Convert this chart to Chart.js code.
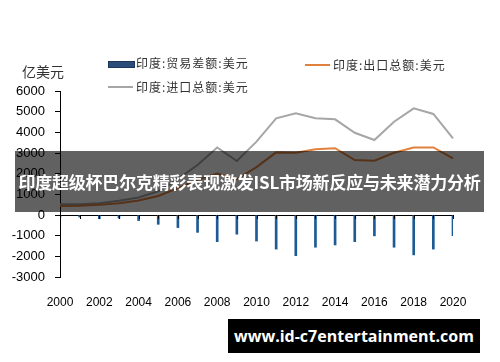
<!DOCTYPE html>
<html>
<head>
<meta charset="utf-8">
<script src="https://cdn.jsdelivr.net/npm/chart.js@4/dist/chart.umd.min.js"></script>
<style>
  html, body { margin: 0; padding: 0; background: #fff; }
  #wrap { position: relative; width: 500px; height: 362px; overflow: hidden; }
  #c { position: absolute; left: 0; top: 0; }
  .unit { position: absolute; left: 22px; top: 61px; font: 14px "Noto Sans CJK SC"; color: #333; }
  .leg { position: absolute; font: 12px "Noto Sans CJK SC"; color: #333; letter-spacing: 1px; white-space: nowrap; line-height: 14px; }
  .sw { position: absolute; }
  #banner { position: absolute; left: 15px; top: 151px; width: 469px; height: 61px; background: rgba(0,0,0,0.62);
            color: #fff; font: bold 17px "Noto Sans CJK SC"; line-height: 61px; text-align: center; white-space: nowrap; letter-spacing: -0.2px; }
  #wm { position: absolute; left: 228px; top: 319px; width: 252px; height: 34px; background: #000; color: #fff;
        font: bold 16px "Open Sans"; line-height: 34px; text-align: center; white-space: nowrap; }
</style>
</head>
<body>
<div id="wrap">
  <canvas id="c" width="500" height="362"></canvas>
  <div class="unit">亿美元</div>
  <div class="sw" style="left:108px;top:61px;width:25px;height:5px;background:#2b4c78;border:1px solid #1d3658;"></div>
  <div class="leg" style="left:136px;top:56px;">印度:贸易差额:美元</div>
  <div class="sw" style="left:305px;top:64px;width:25px;height:2px;background:#e0823d;"></div>
  <div class="leg" style="left:333px;top:58px;">印度:出口总额:美元</div>
  <div class="sw" style="left:108px;top:86px;width:25px;height:2px;background:#a6a6a6;"></div>
  <div class="leg" style="left:136px;top:80px;">印度:进口总额:美元</div>
  <div id="banner">印度超级杯巴尔克精彩表现激发ISL市场新反应与未来潜力分析</div>
  <div id="wm">www.id-c7entertainment.com</div>
</div>
<script>
const years = ["2000","2001","2002","2003","2004","2005","2006","2007","2008","2009","2010",
               "2011","2012","2013","2014","2015","2016","2017","2018","2019","2020"];
const tradeBalance = [-90, -100, -180, -150, -270, -450, -610, -840, -1290, -930, -1260,
                      -1650, -1970, -1560, -1450, -1290, -1010, -1560, -1930, -1650, -1000];
const exportsTotal = [440, 445, 490, 570, 700, 920, 1300, 1700, 2000, 1730, 2320,
                      3030, 3010, 3180, 3230, 2660, 2630, 3010, 3270, 3270, 2740];
const importsTotal = [520, 515, 570, 690, 850, 1150, 1750, 2420, 3270, 2610, 3550,
                      4680, 4920, 4680, 4630, 3980, 3630, 4510, 5160, 4890, 3710];
const yTicks = [-3000, -2000, -1000, 0, 1000, 2000, 3000, 4000, 5000, 6000];

const xTickMarks = {
  id: 'xTickMarks',
  afterDatasetsDraw(chart) {
    const { ctx, scales: { x, y } } = chart;
    const y0 = y.getPixelForValue(0);
    ctx.save();
    ctx.strokeStyle = '#000';
    ctx.lineWidth = 1;
    ctx.beginPath();
    for (let i = 0; i < years.length; i++) {
      const px = Math.round(x.getPixelForValue(i)) + 0.5;
      ctx.moveTo(px, y0);
      ctx.lineTo(px, y0 + 4);
    }
    ctx.stroke();
    ctx.restore();
  }
};

new Chart(document.getElementById('c'), {
  type: 'bar',
  data: {
    labels: years,
    datasets: [
      { type: 'bar', label: '印度:贸易差额:美元', data: tradeBalance, backgroundColor: '#1c5b93',
        barThickness: 2, order: 3 },
      { type: 'line', label: '印度:进口总额:美元', data: importsTotal, borderColor: '#a6a6a6',
        borderWidth: 2, pointRadius: 0, tension: 0, fill: false, order: 2 },
      { type: 'line', label: '印度:出口总额:美元', data: exportsTotal, borderColor: '#e0823d',
        borderWidth: 2, pointRadius: 0, tension: 0, fill: false, order: 1 }
    ]
  },
  options: {
    responsive: false,
    animation: false,
    devicePixelRatio: 1,
    layout: { padding: { top: 91, right: 47, left: 0, bottom: 0 } },
    plugins: { legend: { display: false }, tooltip: { enabled: false } },
    scales: {
      x: {
        offset: false,
        grid: { display: false },
        border: { display: false },
        ticks: { color: '#000', font: { family: 'Liberation Sans', size: 12 }, padding: 10, maxRotation: 0, autoSkip: false,
                 callback: function(v, i) { return i % 2 === 0 ? years[i] : ''; } },
        afterFit(s) { s.height = 85; }
      },
      y: {
        min: -3000, max: 6000,
        afterBuildTicks(s) { s.ticks = yTicks.map(v => ({ value: v })); },
        grid: {
          color: c => (c.tick && c.tick.value === 0) ? '#000' : 'rgba(0,0,0,0)',
          tickColor: '#000', tickLength: 5, lineWidth: 1
        },
        border: { display: true, color: '#000', width: 1 },
        ticks: { color: '#000', font: { family: 'Liberation Sans', size: 13 }, padding: 10,
                 callback: v => String(v) },
        afterFit(s) { s.width = 60; }
      }
    }
  },
  plugins: [xTickMarks]
});
</script>
</body>
</html>
